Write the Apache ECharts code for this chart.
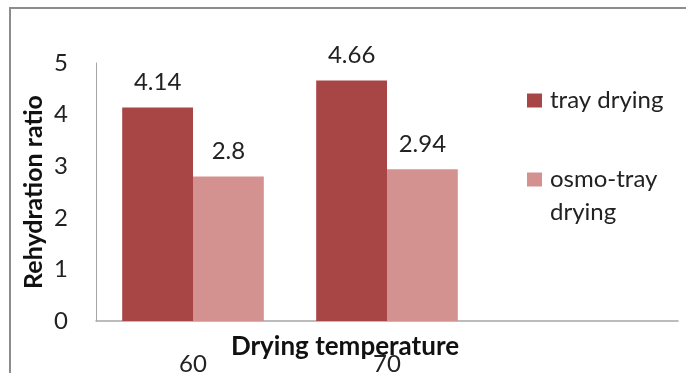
<!DOCTYPE html>
<html>
<head>
<meta charset="utf-8">
<script src="https://cdn.jsdelivr.net/npm/echarts@6/dist/echarts.min.js"></script>
<style>
  html, body { margin: 0; padding: 0; background: #fff; }
  #chart { width: 686px; height: 373px; }
</style>
</head>
<body>
<div id="chart"></div>
<script>
// Drying temperatures (a third, empty slot keeps the plot area wide)
const categories = ['60', '70', ''];
const trayDrying = [4.14, 4.66, null];
const osmoTrayDrying = [2.8, 2.94, null];
const yTicks = [0, 1, 2, 3, 4, 5];

const FONT = 'Lato, "Open Sans", sans-serif';

const chart = echarts.init(document.getElementById('chart'));

const labelStyle = {
  show: true,
  position: 'top',
  distance: 13,
  color: '#222',
  fontSize: 24,
  fontFamily: FONT
};

chart.setOption({
  animation: false,
  graphic: [{
    type: 'rect',
    shape: { x: 10, y: 8, width: 720, height: 420 },
    style: { fill: 'none', stroke: '#8c8c8c', lineWidth: 2 },
    silent: true,
    z: 0
  }],
  grid: { left: 96, right: 8, top: 63, bottom: 52, outerBoundsMode: 'none' },
  legend: {
    orient: 'vertical',
    left: 527,
    top: 84,
    padding: 0,
    itemWidth: 15,
    itemHeight: 14,
    itemGap: 13,
    icon: 'rect',
    textStyle: { fontSize: 24, fontFamily: FONT, color: '#222', lineHeight: 33, padding: [0, 0, 0, 3] },
    // the second entry wraps; a leading blank line keeps its swatch beside the first line
    formatter: function (name) {
      return name === 'osmo-tray drying' ? '\nosmo-tray\ndrying' : name;
    },
    data: ['tray drying', 'osmo-tray drying']
  },
  xAxis: {
    type: 'category',
    data: categories,
    name: 'Drying temperature',
    nameLocation: 'middle',
    nameGap: 13,
    nameMoveOverlap: false,
    // right padding pulls the title toward the two filled groups
    nameTextStyle: { fontSize: 26, fontWeight: 'bold', fontFamily: FONT, color: '#111', padding: [0, 84, 0, 0] },
    axisLine: { lineStyle: { color: '#a6a6a6', width: 1.5 } },
    axisTick: { show: false },
    axisLabel: { margin: 31, fontSize: 24, fontFamily: FONT, color: '#222' }
  },
  yAxis: {
    type: 'value',
    min: 0,
    max: yTicks[yTicks.length - 1],
    interval: 1,
    name: 'Rehydration ratio',
    nameLocation: 'middle',
    nameGap: 50,
    nameRotate: 90,
    nameMoveOverlap: false,
    nameTextStyle: { fontSize: 25, fontWeight: 'bold', fontFamily: FONT, color: '#111' },
    axisLine: { show: true, lineStyle: { color: '#a6a6a6', width: 1 } },
    axisTick: { show: false },
    splitLine: { show: false },
    axisLabel: { margin: 28, fontSize: 24, fontFamily: FONT, color: '#222' }
  },
  series: [
    {
      name: 'tray drying',
      type: 'bar',
      data: trayDrying,
      barGap: '0%',
      barCategoryGap: '27%',
      itemStyle: { color: '#a84646' },
      label: labelStyle
    },
    {
      name: 'osmo-tray drying',
      type: 'bar',
      data: osmoTrayDrying,
      itemStyle: { color: '#d39190' },
      label: labelStyle
    }
  ]
});
</script>
</body>
</html>
